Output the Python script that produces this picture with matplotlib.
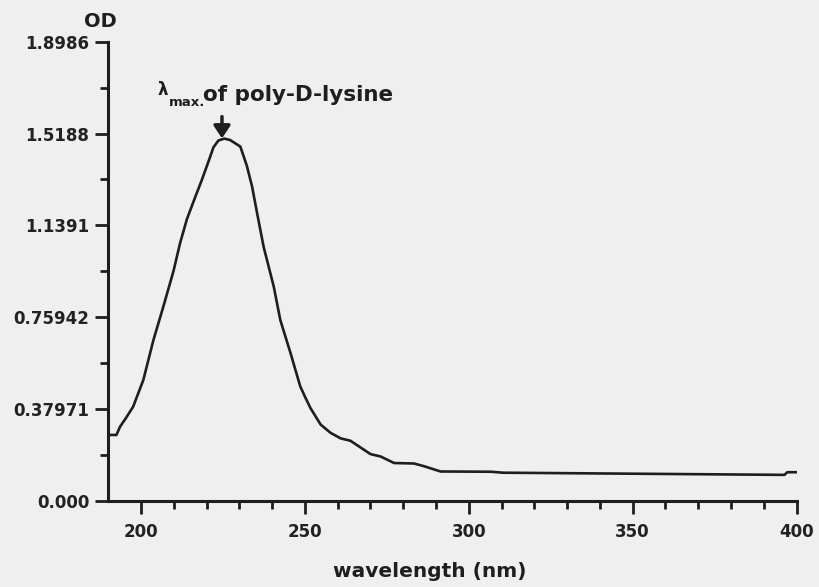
import matplotlib.pyplot as plt
from matplotlib.ticker import FixedLocator

# Spectrum (wavelength in nm, optical density)
wavelength = [190.5, 192.5, 193.6, 195.5, 197.6, 200.7, 203.8, 206.8, 209.9, 211.9,
              214.0, 216.5, 218.5, 220.5, 222.1, 223.6, 225.4, 227.2, 230.3, 232.3,
              233.9, 235.4, 237.4, 240.5, 242.5, 245.6, 248.6, 250.2, 251.7, 254.8,
              257.8, 260.9, 263.9, 267.0, 270.0, 273.1, 277.2, 283.3, 286.3, 291.4,
              306.7, 310.4, 396.3, 397.2, 400.0]
od = [0.273, 0.273, 0.307, 0.345, 0.390, 0.500, 0.666, 0.803, 0.950, 1.065,
      1.165, 1.255, 1.325, 1.400, 1.462, 1.490, 1.498, 1.492, 1.465, 1.385,
      1.299, 1.191, 1.051, 0.886, 0.748, 0.612, 0.473, 0.426, 0.384, 0.316,
      0.282, 0.259, 0.249, 0.221, 0.194, 0.184, 0.157, 0.155, 0.144, 0.122,
      0.121, 0.117, 0.108, 0.119, 0.119]

# Axis ticks as printed by the instrument
y_ticks = [0.0, 0.37971, 0.75942, 1.1391, 1.5188, 1.8986]
y_labels = ["0.000", "0.37971", "0.75942", "1.1391", "1.5188", "1.8986"]
x_ticks = [200, 250, 300, 350, 400]
x_labels = ["200", "250", "300", "350", "400"]

peak_nm = 224.7
peak_od = 1.499

paper = "#efefef"
ink = "#1e1e1e"

# -----------------------------
# Figure
# -----------------------------
plt.rcParams["font.family"] = "DejaVu Sans"
fig = plt.figure(figsize=(8.2, 5.87), dpi=100, facecolor=paper)
ax = fig.add_axes([0.132, 0.1465, 0.8394, 0.7825], facecolor=paper)

ax.plot(wavelength, od, color=ink, lw=1.9)

ax.set_xlim(190, 400)
ax.set_ylim(0, 1.8986)

for side in ["top", "right"]:
    ax.spines[side].set_visible(False)
for side in ["left", "bottom"]:
    ax.spines[side].set_linewidth(2.2)
    ax.spines[side].set_color(ink)

ax.set_yticks(y_ticks)
ax.set_yticklabels(y_labels)
ax.yaxis.set_minor_locator(FixedLocator([(a + b) / 2 for a, b in zip(y_ticks[:-1], y_ticks[1:])]))
ax.set_xticks(x_ticks)
ax.set_xticklabels(x_labels)
ax.xaxis.set_minor_locator(FixedLocator([w for w in range(200, 400, 10) if w % 50 != 0]))

ax.tick_params(which="major", length=9.5, width=2, color=ink, direction="out")
ax.tick_params(which="minor", length=5.5, width=2, color=ink, direction="out")
ax.tick_params(axis="y", which="major", pad=4)
ax.tick_params(axis="x", which="major", pad=6)
for lbl in ax.get_xticklabels() + ax.get_yticklabels():
    lbl.set_fontsize(12)
    lbl.set_fontweight("bold")
    lbl.set_color("#222222")

ax.text(-0.012, 1.043, "OD", transform=ax.transAxes, ha="center", va="center",
        fontsize=14, fontweight="bold", color=ink, clip_on=False)
ax.text(0.467, -0.154, "wavelength (nm)", transform=ax.transAxes, ha="center",
        va="center", fontsize=14.5, fontweight="bold", color=ink, clip_on=False)

# -----------------------------
# Peak annotation
# -----------------------------
ax.annotate("", xy=(peak_nm, peak_od), xytext=(peak_nm, peak_od + 0.09),
            arrowprops=dict(arrowstyle="-|>,head_width=0.5,head_length=0.75",
                            lw=2.5, color=ink, shrinkA=0, shrinkB=0))
ax.text(204.9, 1.678, "λ", ha="left", va="baseline", fontsize=12,
        fontweight="bold", color=ink)
ax.text(208.4, 1.633, "max.", ha="left", va="baseline", fontsize=9.5,
        fontweight="bold", color=ink)
ax.text(219.0, 1.655, "of poly-D-lysine", ha="left", va="baseline", fontsize=15.5,
        fontweight="bold", color=ink)

plt.savefig("out.png", dpi=100, facecolor=paper)
